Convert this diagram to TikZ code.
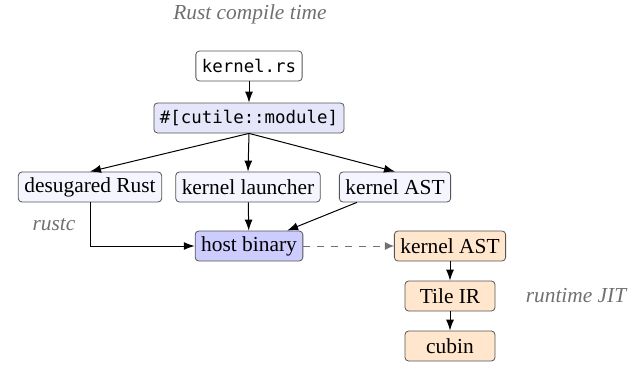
\documentclass[tikz,border=0pt]{standalone}
\usepackage{fontspec}
\setmainfont{Liberation Serif}
\setmonofont{DejaVu Sans Mono}
\usetikzlibrary{arrows.meta}
\definecolor{modfill}{HTML}{E6E6FA}
\definecolor{lightfill}{HTML}{F5F5FF}
\definecolor{hostfill}{HTML}{CCCCFF}
\definecolor{jitfill}{HTML}{FFE6CC}
\definecolor{bordergray}{HTML}{555555}
\definecolor{labelgray}{HTML}{707070}
\begin{document}
\begin{tikzpicture}[x=0.5pt,y=-0.5pt,
  box/.style={draw=bordergray, rounded corners=1.8pt, line width=0.4pt,
    minimum height=15pt, inner xsep=3pt, inner ysep=0pt,
    font=\fontsize{10.7}{12}\selectfont},
  monobox/.style={box, font=\fontsize{8.7}{10}\ttfamily},
  jitbox/.style={box, fill=jitfill},
  lbl/.style={text=labelgray, font=\fontsize{10.7}{12}\selectfont\itshape},
  arr/.style={-{Latex[length=5.5pt,width=4pt]}, line width=0.5pt, black},
  darr/.style={-{Latex[length=4.5pt,width=4pt]}, line width=0.5pt, labelgray, dash pattern=on 3.5pt off 3.5pt}]
\useasboundingbox (0,0) rectangle (641,364);

\node[lbl] (ctime) at (250,14) {Rust compile time};
\node[monobox, fill=white] (src) at (249,66) {kernel.rs};
\node[monobox, fill=modfill] (mod) at (249,118) {\#[cutile::module]};
\node[box, fill=lightfill] (des) at (90,187) {desugared Rust};
\node[box, fill=lightfill] (launch) at (248,187) {kernel launcher};
\node[box, fill=lightfill] (ast) at (395,187) {kernel AST};
\node[box, fill=hostfill] (host) at (249,246) {host binary};
\node[lbl] (rustc) at (54,225) {rustc};

\node[jitbox, minimum width=54pt] (jast) at (450,246) {kernel AST};
\node[jitbox, minimum width=45pt] (tile) at (450,296) {Tile IR};
\node[jitbox, minimum width=45pt] (cubin) at (450,346) {cubin};
\node[lbl] (jit) at (576,296) {runtime JIT};

\draw[arr] (src) -- (mod);
\draw[arr] (mod.south) -- (des.north);
\draw[arr] (mod.south) -- (launch.north);
\draw[arr] (mod.south) -- (ast.north);
\draw[arr] (launch) -- (host);
\draw[arr] (ast) -- (host);
\draw[arr] (des.south) |- (host.west);
\draw[darr] (host.east) -- (jast.west);
\draw[arr] (jast) -- (tile);
\draw[arr] (tile) -- (cubin);
\end{tikzpicture}
\end{document}
